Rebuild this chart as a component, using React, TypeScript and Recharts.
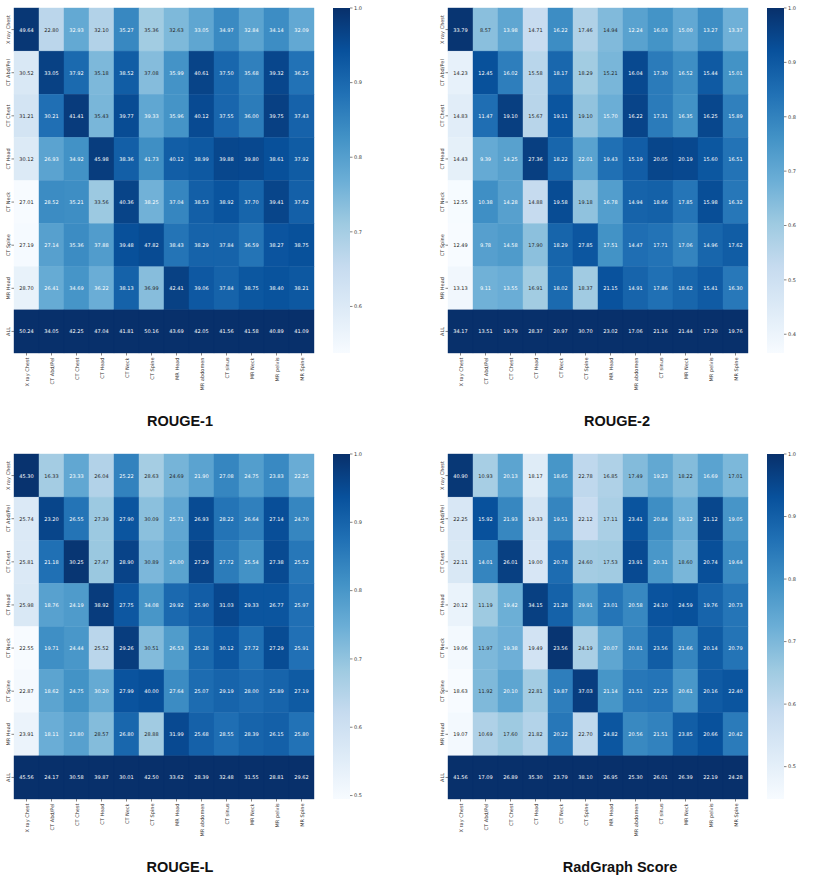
import React from "react"
import { ScatterChart, Scatter, XAxis, YAxis, BarChart, Bar } from "recharts"

const rowLabels = ["X ray Chest", "CT Abd/Pel", "CT Chest", "CT Head", "CT Neck", "CT Spine", "MR Head", "ALL"]
const colLabels = [
  "X ray Chest", "CT Abd/Pel", "CT Chest", "CT Head", "CT Neck", "CT Spine",
  "MR Head", "MR abdomen", "CT sinus", "MR Neck", "MR pelvis", "MR Spine",
]

const rouge1 = [
  [49.64, 22.8, 32.93, 32.1, 35.27, 35.36, 32.63, 33.05, 34.97, 32.84, 34.14, 32.09],
  [30.52, 33.05, 37.92, 35.18, 38.52, 37.08, 35.99, 40.61, 37.5, 35.68, 39.32, 36.25],
  [31.21, 30.21, 41.41, 35.43, 39.77, 39.33, 35.96, 40.12, 37.55, 36.0, 39.75, 37.43],
  [30.12, 26.93, 34.92, 45.98, 38.36, 41.73, 40.12, 38.99, 39.88, 39.8, 38.61, 37.92],
  [27.01, 28.52, 35.21, 33.56, 40.36, 38.25, 37.04, 38.53, 38.92, 37.7, 39.41, 37.62],
  [27.19, 27.14, 35.36, 37.88, 39.48, 47.82, 38.43, 38.29, 37.84, 36.59, 38.27, 38.75],
  [28.7, 26.41, 34.69, 36.22, 38.13, 36.99, 42.41, 39.06, 37.84, 38.75, 38.4, 38.21],
  [50.24, 34.05, 42.25, 47.04, 41.81, 50.16, 43.69, 42.05, 41.56, 41.58, 40.89, 41.09],
]

const rouge2 = [
  [33.79, 8.57, 13.98, 14.71, 16.22, 17.46, 14.94, 12.24, 16.03, 15.0, 13.27, 13.37],
  [14.23, 12.45, 16.02, 15.58, 18.17, 18.29, 15.21, 16.04, 17.3, 16.52, 15.44, 15.01],
  [14.83, 11.47, 19.1, 15.67, 19.11, 19.1, 15.7, 16.22, 17.31, 16.35, 16.25, 15.89],
  [14.43, 9.39, 14.25, 27.36, 18.22, 22.01, 19.43, 15.19, 20.05, 20.19, 15.6, 16.51],
  [12.55, 10.38, 14.28, 14.88, 19.58, 19.18, 16.78, 14.94, 18.66, 17.85, 15.98, 16.32],
  [12.49, 9.78, 14.58, 17.9, 18.29, 27.85, 17.51, 14.47, 17.71, 17.06, 14.96, 17.62],
  [13.13, 9.11, 13.55, 16.91, 18.02, 18.37, 21.15, 14.91, 17.86, 18.62, 15.41, 16.3],
  [34.17, 13.51, 19.79, 28.37, 20.97, 30.7, 23.02, 17.06, 21.16, 21.44, 17.2, 19.76],
]

const rougeL = [
  [45.3, 16.33, 23.33, 26.04, 25.22, 28.63, 24.69, 21.9, 27.08, 24.75, 23.83, 22.25],
  [25.74, 23.2, 26.55, 27.39, 27.9, 30.09, 25.71, 26.93, 28.22, 26.64, 27.14, 24.7],
  [25.81, 21.18, 30.25, 27.47, 28.9, 30.89, 26.0, 27.29, 27.72, 25.54, 27.38, 25.52],
  [25.98, 18.76, 24.19, 38.92, 27.75, 34.08, 29.92, 25.9, 31.03, 29.33, 26.77, 25.97],
  [22.55, 19.71, 24.44, 25.52, 29.26, 30.51, 26.53, 25.28, 30.12, 27.72, 27.29, 25.91],
  [22.87, 18.62, 24.75, 30.2, 27.99, 40.0, 27.64, 25.07, 29.19, 28.0, 25.89, 27.19],
  [23.91, 18.11, 23.8, 28.57, 26.8, 28.88, 31.99, 25.68, 28.55, 28.39, 26.15, 25.8],
  [45.56, 24.17, 30.58, 39.87, 30.01, 42.5, 33.62, 28.39, 32.48, 31.55, 28.81, 29.62],
]

const radgraph = [
  [40.9, 10.93, 20.13, 18.17, 18.65, 22.78, 16.85, 17.49, 19.23, 18.22, 16.69, 17.01],
  [22.25, 15.92, 21.93, 19.33, 19.51, 22.12, 17.11, 23.41, 20.84, 19.12, 21.12, 19.05],
  [22.11, 14.01, 26.01, 19.0, 20.78, 24.6, 17.53, 23.91, 20.31, 18.6, 20.74, 19.64],
  [20.12, 11.19, 19.42, 34.15, 21.28, 29.91, 23.01, 20.58, 24.1, 24.59, 19.76, 20.73],
  [19.06, 11.97, 19.38, 19.49, 23.56, 24.19, 20.07, 20.81, 23.56, 21.66, 20.14, 20.79],
  [18.63, 11.92, 20.1, 22.81, 19.87, 37.03, 21.14, 21.51, 22.25, 20.61, 20.16, 22.4],
  [19.07, 10.69, 17.6, 21.82, 20.22, 22.7, 24.82, 20.56, 21.51, 23.85, 20.66, 20.42],
  [41.56, 17.09, 26.89, 35.3, 23.79, 38.1, 26.95, 25.3, 26.01, 26.39, 22.19, 24.28],
]

// matplotlib "Blues"
const BLUES = ["#f7fbff", "#deebf7", "#c6dbef", "#9ecae1", "#6baed6", "#4292c6", "#2171b5", "#08519c", "#08306b"]
const FONT = "DejaVu Sans, sans-serif"
const LABEL = "#333333"

const PLOT_W = 300
const PLOT_H = 345

const hexRgb = (h: string) => [1, 3, 5].map((i) => parseInt(h.slice(i, i + 2), 16))

function blues(t: number) {
  const c = Math.max(0, Math.min(1, t)) * (BLUES.length - 1)
  const i = Math.min(Math.floor(c), BLUES.length - 2)
  const f = c - i
  const a = hexRgb(BLUES[i])
  const b = hexRgb(BLUES[i + 1])
  return a.map((v, k) => Math.round(v + (b[k] - v) * f))
}

function textColor(rgb: number[]) {
  const lin = rgb.map((v) => {
    const s = v / 255
    return s <= 0.03928 ? s / 12.92 : Math.pow((s + 0.055) / 1.055, 2.4)
  })
  const lum = 0.2126 * lin[0] + 0.7152 * lin[1] + 0.0722 * lin[2]
  return lum > 0.408 ? "#262626" : "#ffffff"
}

const XTick = (props: any) => {
  const { x, y, payload } = props
  const label = colLabels[Math.floor(payload.value)]
  return (
    <g transform={`translate(${x},${y})`}>
      <line x1={0} x2={0} y1={0} y2={2.5} stroke={LABEL} strokeWidth={0.6} />
      <text
        transform="rotate(-90)"
        x={-4.5}
        y={0}
        textAnchor="end"
        dominantBaseline="central"
        fontSize={5}
        fontFamily={FONT}
        fill={LABEL}
      >
        {label}
      </text>
    </g>
  )
}

const YTick = (props: any) => {
  const { x, y, payload } = props
  const label = rowLabels[Math.floor(payload.value)]
  return (
    <g transform={`translate(${x},${y})`}>
      <line x1={-2.5} x2={0} y1={0} y2={0} stroke={LABEL} strokeWidth={0.6} />
      <text
        transform="rotate(-90)"
        x={0}
        y={-6}
        textAnchor="middle"
        dominantBaseline="central"
        fontSize={5}
        fontFamily={FONT}
        fill={LABEL}
      >
        {label}
      </text>
    </g>
  )
}

function HeatmapPanel({
  title,
  values,
  left,
  top,
  titleX,
  id,
}: {
  title: string
  values: number[][]
  left: number
  top: number
  titleX: number
  id: string
}) {
  const colMax = colLabels.map((_, j) => Math.max(...values.map((r) => r[j])))
  const cells = values.flatMap((row, i) =>
    row.map((v, j) => ({ x: j + 0.5, y: i + 0.5, v, ratio: v / colMax[j] }))
  )
  const vmin = Math.min(...cells.map((c) => c.ratio))
  const cw = PLOT_W / colLabels.length
  const ch = PLOT_H / rowLabels.length

  const cbTicks: number[] = []
  for (let t = Math.ceil(vmin * 10 - 1e-9); t <= 10; t++) cbTicks.push(t / 10)

  const renderCell = (p: any) => {
    const { cx, cy, payload } = p
    const rgb = blues((payload.ratio - vmin) / (1 - vmin))
    const fill = `rgb(${rgb.join(",")})`
    return (
      <g>
        <rect x={cx - cw / 2} y={cy - ch / 2} width={cw} height={ch} fill={fill} stroke={fill} strokeWidth={0.4} />
        <text
          x={cx}
          y={cy}
          textAnchor="middle"
          dominantBaseline="central"
          fontSize={5}
          fontFamily={FONT}
          fill={textColor(rgb)}
        >
          {payload.v.toFixed(2)}
        </text>
      </g>
    )
  }

  return (
    <div style={{ position: "absolute", left, top, width: 400, height: 440 }}>
      <div style={{ position: "absolute", left: 0, top: 0 }}>
        <ScatterChart width={320} height={415} margin={{ top: 8, right: 6, bottom: 2, left: 0 }}>
          <XAxis
            type="number"
            dataKey="x"
            domain={[0, colLabels.length]}
            ticks={colLabels.map((_, j) => j + 0.5)}
            interval={0}
            height={60}
            tickSize={0}
            tickMargin={0}
            axisLine={false}
            tickLine={false}
            tick={<XTick />}
          />
          <YAxis
            type="number"
            dataKey="y"
            reversed
            domain={[0, rowLabels.length]}
            ticks={rowLabels.map((_, i) => i + 0.5)}
            interval={0}
            width={14}
            tickSize={0}
            tickMargin={0}
            axisLine={false}
            tickLine={false}
            tick={<YTick />}
          />
          <Scatter data={cells} shape={renderCell} isAnimationActive={false} />
        </ScatterChart>
      </div>
      <div style={{ position: "absolute", left: 333, top: 0 }}>
        <BarChart
          width={40}
          height={353}
          data={[{ name: "cb", range: [vmin, 1] }]}
          margin={{ top: 8, right: 0, bottom: 0, left: 0 }}
          barCategoryGap={0}
        >
          <defs>
            <linearGradient id={id} x1="0" y1="0" x2="0" y2="1">
              {BLUES.map((c, k) => (
                <stop key={k} offset={k / (BLUES.length - 1)} stopColor={BLUES[BLUES.length - 1 - k]} />
              ))}
            </linearGradient>
          </defs>
          <XAxis dataKey="name" hide />
          <YAxis
            orientation="right"
            type="number"
            domain={[vmin, 1]}
            allowDataOverflow
            ticks={cbTicks}
            interval={0}
            width={23}
            axisLine={false}
            tickSize={2.5}
            tickMargin={1.5}
            tickLine={{ stroke: LABEL, strokeWidth: 0.6 }}
            tick={{ fontSize: 5, fontFamily: FONT, fill: LABEL }}
            tickFormatter={(v: number) => v.toFixed(1)}
          />
          <Bar dataKey="range" fill={`url(#${id})`} isAnimationActive={false} />
        </BarChart>
      </div>
      <div
        style={{
          position: "absolute",
          left: titleX - 100,
          top: 412,
          width: 200,
          textAlign: "center",
          fontFamily: "Liberation Sans, Arial, sans-serif",
          fontWeight: "bold",
          fontSize: 14.5,
          lineHeight: "18px",
          color: "#111",
        }}
      >
        {title}
      </div>
    </div>
  )
}

export default function App() {
  return (
    <div style={{ position: "absolute", left: 0, top: 0, width: 830, height: 885, background: "#fff" }}>
      <HeatmapPanel title="ROUGE-1" values={rouge1} left={0} top={0} titleX={180} id="cb1" />
      <HeatmapPanel title="ROUGE-2" values={rouge2} left={434} top={0} titleX={183} id="cb2" />
      <HeatmapPanel title="ROUGE-L" values={rougeL} left={0} top={446} titleX={180} id="cb3" />
      <HeatmapPanel title="RadGraph Score" values={radgraph} left={434} top={446} titleX={186} id="cb4" />
    </div>
  )
}
